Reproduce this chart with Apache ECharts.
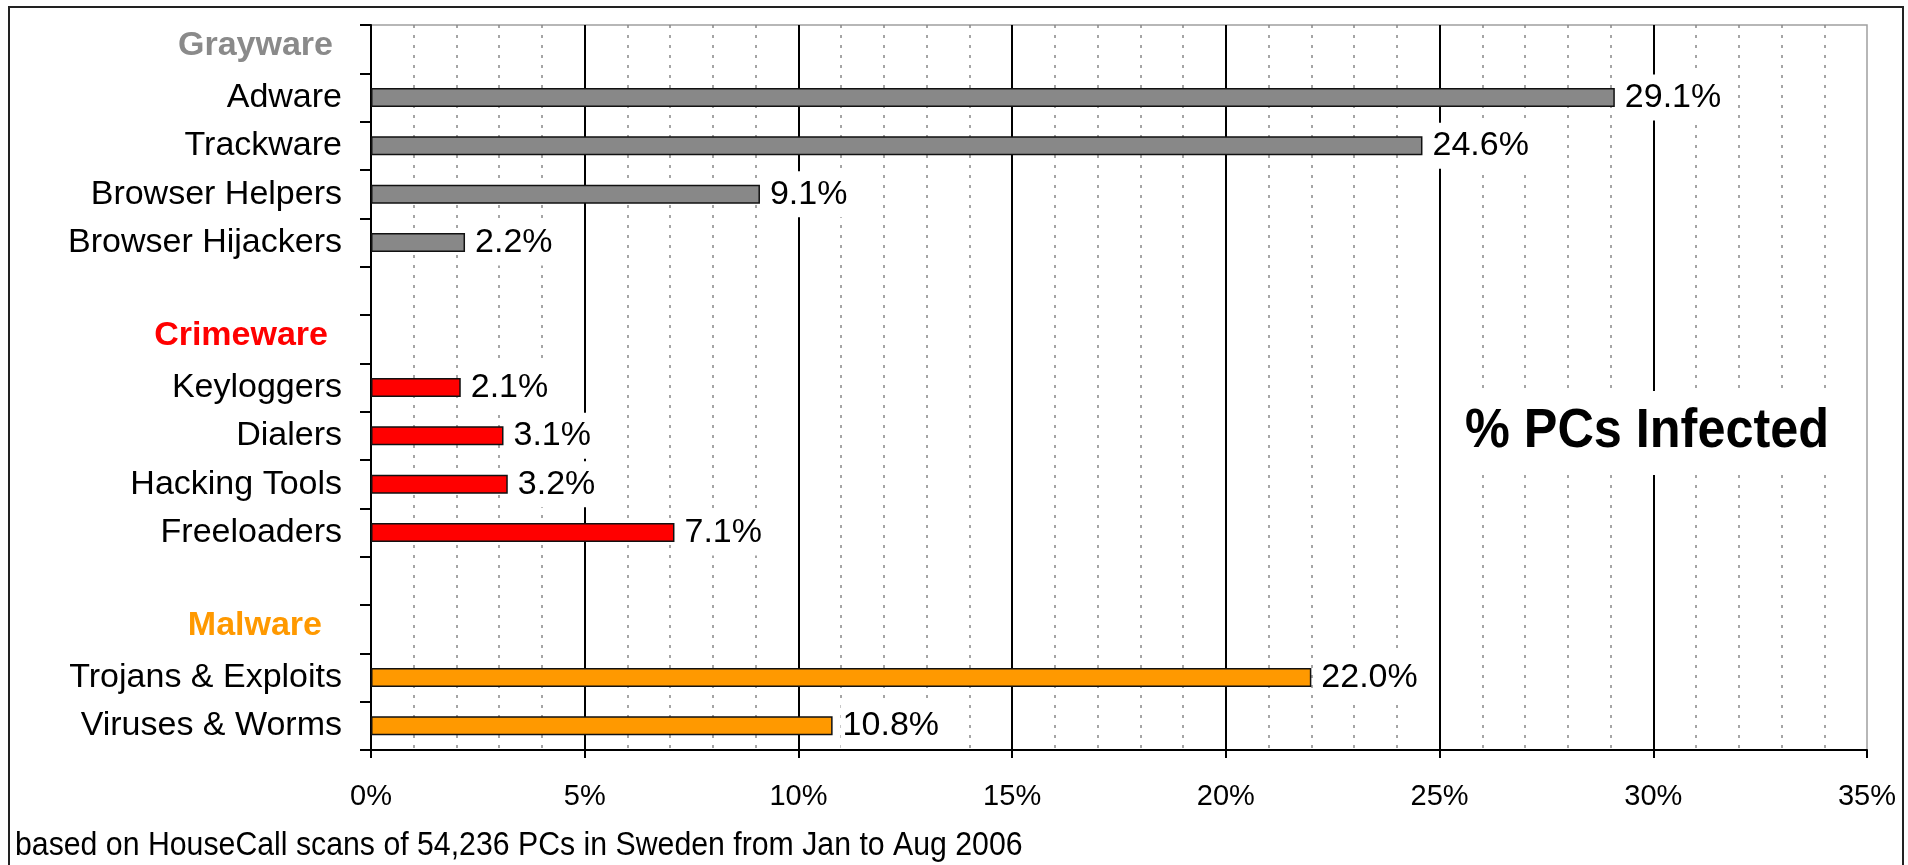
<!DOCTYPE html>
<html>
<head>
<meta charset="utf-8">
<script src="https://cdn.jsdelivr.net/npm/echarts@6/dist/echarts.min.js"></script>
<style>
  html, body { margin: 0; padding: 0; background: #fff; }
  #chart { width: 1908px; height: 865px; }
</style>
</head>
<body>
<div id="chart"></div>
<script>
// ---- Data ----
const grayHeader = 'Grayware';
const grayCats = ['Adware', 'Trackware', 'Browser Helpers', 'Browser Hijackers'];
const grayVals = [29.1, 24.6, 9.1, 2.2];

const crimeHeader = 'Crimeware';
const crimeCats = ['Keyloggers', 'Dialers', 'Hacking Tools', 'Freeloaders'];
const crimeVals = [2.1, 3.1, 3.2, 7.1];

const malHeader = 'Malware';
const malCats = ['Trojans & Exploits', 'Viruses & Worms'];
const malVals = [22.0, 10.8];

const xMin = 0, xMax = 35, xStep = 5;
const titleText = '% PCs Infected';
const footnoteText = 'based on HouseCall scans of 54,236 PCs in Sweden from Jan to Aug 2006';

// ---- Build categories / data ----
const FONT = '"Liberation Sans", Arial, sans-serif';
const groups = [
  { header: grayHeader, cats: grayCats, vals: grayVals, color: '#888888', key: 'hg' },
  { header: crimeHeader, cats: crimeCats, vals: crimeVals, color: '#ff0000', key: 'hc' },
  { header: malHeader, cats: malCats, vals: malVals, color: '#ff9900', key: 'hm' }
];
const categories = [];
const barData = [];
const headerKey = {};
groups.forEach((g, gi) => {
  categories.push(g.header);
  headerKey[g.header] = g.key;
  barData.push(null);
  g.cats.forEach((c, i) => {
    categories.push(c);
    barData.push({ value: g.vals[i], itemStyle: { color: g.color } });
  });
  if (gi < groups.length - 1) {
    const blank = ' '.repeat(gi + 1);
    categories.push(blank);
    barData.push(null);
  }
});

const chart = echarts.init(document.getElementById('chart'));
const option = {
  animation: false,
  backgroundColor: '#fff',
  textStyle: { fontFamily: FONT },
  grid: {
    left: 371, top: 25, width: 1496, height: 725,
    show: true, borderColor: '#a0a0a0', borderWidth: 1.5
  },
  xAxis: {
    type: 'value',
    min: xMin, max: xMax, interval: xStep,
    axisLine: { show: true, lineStyle: { color: '#000', width: 2 } },
    axisTick: { show: true, length: 8, lineStyle: { color: '#000', width: 2 } },
    axisLabel: {
      formatter: v => v + '%',
      fontSize: 29, color: '#000', fontFamily: FONT, margin: 32
    },
    splitLine: {
      show: true, showMinLine: false, showMaxLine: false,
      lineStyle: { color: '#000', width: 2 }
    },
    minorTick: { show: false, splitNumber: 5 },
    minorSplitLine: {
      show: true,
      lineStyle: { color: '#888', width: 1.5, type: [3, 7] }
    }
  },
  yAxis: {
    type: 'category',
    data: categories,
    inverse: true,
    axisLine: { show: true, lineStyle: { color: '#000', width: 2 } },
    axisTick: { show: true, length: 11, interval: 0, lineStyle: { color: '#000', width: 2 } },
    axisLabel: {
      interval: 0, margin: 29, fontSize: 34, color: '#000', fontFamily: FONT,
      formatter: v => headerKey[v] ? '{' + headerKey[v] + '|' + v + '}' : v,
      rich: {
        hg: { fontSize: 34, fontWeight: 'bold', color: '#8a8a8a', fontFamily: FONT, padding: [0, 9, 8, 0] },
        hc: { fontSize: 34, fontWeight: 'bold', color: '#ff0000', fontFamily: FONT, padding: [0, 14, 8, 0] },
        hm: { fontSize: 34, fontWeight: 'bold', color: '#ff9900', fontFamily: FONT, padding: [0, 20, 8, 0] }
      }
    },
    splitLine: { show: false }
  },
  series: [{
    type: 'bar',
    data: barData,
    barWidth: 19,
    itemStyle: { borderColor: '#111', borderWidth: 1.5 },
    label: {
      show: true,
      position: 'right',
      distance: 8,
      formatter: p => p.value.toFixed(1) + '%',
      fontSize: 34,
      color: '#000',
      fontFamily: FONT,
      backgroundColor: '#fff',
      lineHeight: 40,
      padding: [3, 2]
    }
  }],
  graphic: [
    {
      type: 'rect', z: 100,
      shape: { x: 1445, y: 391, width: 405, height: 84 },
      style: { fill: '#fff' }
    },
    {
      type: 'text', z: 101,
      x: 1647, y: 432, scaleX: 0.9,
      style: {
        text: titleText, fill: '#000', font: 'bold 56px ' + FONT,
        textAlign: 'center', textVerticalAlign: 'middle'
      }
    },
    {
      type: 'text', z: 101,
      x: 15, y: 846, scaleX: 0.89,
      style: {
        text: footnoteText, fill: '#000', font: '34px ' + FONT,
        textAlign: 'left', textVerticalAlign: 'middle'
      }
    },
    {
      type: 'rect', z: 102,
      shape: { x: 9, y: 7, width: 1894, height: 870 },
      style: { fill: 'none', stroke: '#222', lineWidth: 2 }
    }
  ]
};
chart.setOption(option);
</script>
</body>
</html>
